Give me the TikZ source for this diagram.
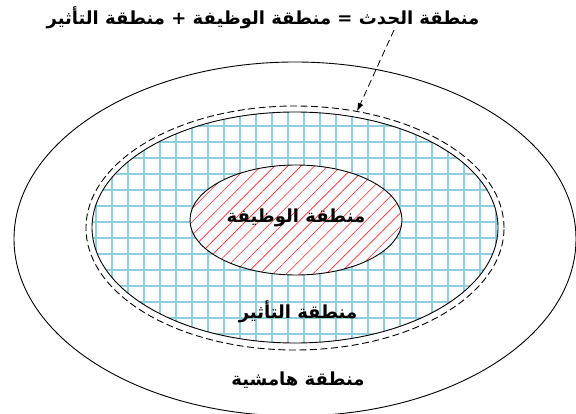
\documentclass[tikz,border=0pt]{standalone}
\usepackage{fontspec}
\newfontfamily\arabicfont[Script=Arabic]{DejaVu Sans}
\TeXXeTstate=1
\usetikzlibrary{arrows.meta,shapes.geometric,patterns.meta,positioning}
\definecolor{gridblue}{RGB}{146,205,220}
\newcommand{\ar}[1]{\arabicfont\bfseries\beginR #1\endR}

\begin{document}
\begin{tikzpicture}[x=1pt,y=-1pt,>=Latex,font=\fontsize{18}{20}\selectfont,
  zone/.style={ellipse,draw,line width=0.9pt,inner sep=0pt},
  lbl/.style={inner sep=1pt}]
\useasboundingbox (0,0) rectangle (576,414);
% zones
\node[zone,minimum width=562pt,minimum height=354pt] (margin) at (295,239) {};
\node[zone,dashed,dash pattern=on 7pt off 3.5pt,minimum width=418pt,minimum height=244pt] (event) at (295,228) {};
\node[zone,preaction={fill=white},pattern={Hatch[angle=0,distance=16pt,line width=1.3pt]},pattern color=gridblue,
  minimum width=406pt,minimum height=231pt] (effect) at (295,227.5) {};
\node[zone,preaction={fill=white},pattern={Lines[angle=45,distance=9.4pt,line width=0.6pt]},pattern color=red!85,
  minimum width=212pt,minimum height=110pt] (func) at (296,220) {};
% labels
\node[lbl] (funclbl) at (296,218) {\ar{منطقة الوظيفة}};
\node[lbl] (effectlbl) at (298,312) {\ar{منطقة التأثير}};
\node[lbl] (marginlbl) at (298,380) {\ar{منطقة هامشية}};
% title and arrow
\node[lbl] (title) at (263,18) {\ar{منطقة الحدث = منطقة الوظيفة + منطقة التأثير}};
\coordinate (start) at (394,30);
\draw[->,dashed,dash pattern=on 7pt off 4pt,line width=0.8pt,-{Latex[length=8pt,width=6pt]}] (start) -- (event.62);
\end{tikzpicture}
\end{document}
